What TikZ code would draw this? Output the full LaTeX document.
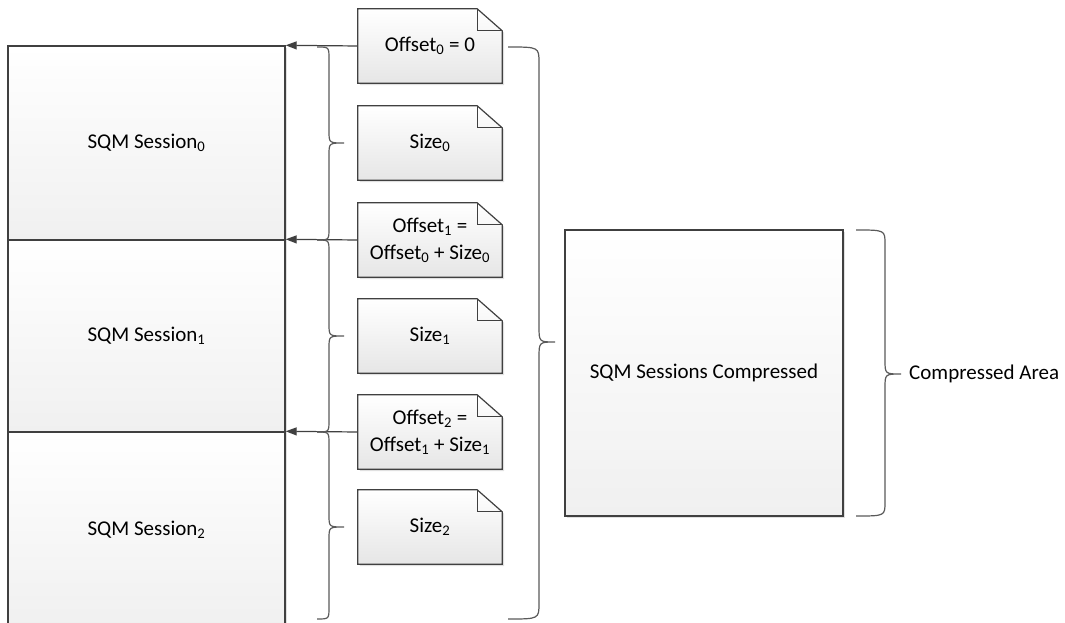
\documentclass[tikz,border=0pt]{standalone}
\usepackage{fontspec}
\setmainfont{Carlito}
\usetikzlibrary{arrows.meta,shadows,backgrounds,calc}
\definecolor{edgecol}{HTML}{404040}
\definecolor{bracecol}{HTML}{5A5A5A}
\definecolor{boxend}{HTML}{F0F0F0}
\definecolor{noteend}{HTML}{E6E6E6}
\newcommand\sub[1]{\textsubscript{#1}}
\newcommand\mybrace[7]{% x0 xv xt yt ym yb r
  \draw[bracel] (#1,#4) .. controls (#2,#4) .. (#2,#4+#7) -- (#2,#5-#7)
    .. controls (#2,#5) .. (#3,#5) .. controls (#2,#5) .. (#2,#5+#7)
    -- (#2,#6-#7) .. controls (#2,#6) .. (#1,#6);}
\begin{document}
\begin{tikzpicture}[x=1pt,y=-1pt,
  font=\fontsize{21}{27}\selectfont,
  softshadow/.style={drop shadow={shadow xshift=2pt,shadow yshift=-2pt,fill=black,opacity=0.12}},
  box/.style={draw=edgecol,line width=1.4pt,top color=white,bottom color=boxend,
    minimum width=277pt,inner sep=0pt,softshadow},
  notetxt/.style={minimum width=144pt,minimum height=74pt,inner sep=0pt,align=center},
  notebody/.style={draw=edgecol,line width=1.2pt,top color=white,bottom color=noteend},
  link/.style={-{Triangle[length=11pt,width=8pt]},draw=edgecol,line width=1.2pt},
  bracel/.style={draw=bracecol,line width=1.2pt}]
\useasboundingbox (0,0) rectangle (1065,623);
% session boxes
\node[box,minimum height=194pt] (s0) at (146.5,143) {SQM Session\sub{0}};
\node[box,minimum height=192pt] (s1) at (146.5,336) {SQM Session\sub{1}};
\node[box,minimum height=196pt] (s2) at (146.5,530) {SQM Session\sub{2}};
% notes (text)
\node[notetxt] (o0) at (430,46) {Offset\sub{0} = 0};
\node[notetxt] (z0) at (430,143) {Size\sub{0}};
\node[notetxt] (o1) at (430,240) {Offset\sub{1} =\\Offset\sub{0} + Size\sub{0}};
\node[notetxt] (z1) at (430,336) {Size\sub{1}};
\node[notetxt] (o2) at (430,432) {Offset\sub{2} =\\Offset\sub{1} + Size\sub{1}};
\node[notetxt] (z2) at (430,527) {Size\sub{2}};
% compressed
\node[box,minimum width=278pt,minimum height=286pt] (cmp) at (704,373) {SQM Sessions Compressed};
\node[anchor=west,inner sep=0pt] (lab) at (909,374) {Compressed Area};
% note bodies
\begin{scope}[on background layer]
\fill[white] (0,0) rectangle (1065,623);
\foreach \n in {o0,z0,o1,z1,o2,z2}{
  \path[notebody,softshadow] (\n.north west) -- ([xshift=-25pt]\n.north east)
    -- ([yshift=-22pt]\n.north east) -- (\n.south east) -- (\n.south west) -- cycle;
  \draw[edgecol,line width=1.2pt] ([xshift=-25pt]\n.north east)
    -- ([xshift=-25pt,yshift=-22pt]\n.north east) -- ([yshift=-22pt]\n.north east);
}
\end{scope}
% arrows
\draw[link] (o0.west) -- (s0.north east);
\draw[link] (o1.west) -- (s1.north east);
\draw[link] (o2.west) -- (s2.north east);
% braces
\mybrace{317}{329}{344}{47}{143}{240}{12}
\mybrace{317}{329}{344}{240}{336}{432}{12}
\mybrace{317}{329}{344}{432}{527}{619}{12}
\mybrace{508}{539}{555}{47}{342}{619}{16}
\mybrace{856}{885}{901}{230}{374}{516}{14}
\end{tikzpicture}
\end{document}
